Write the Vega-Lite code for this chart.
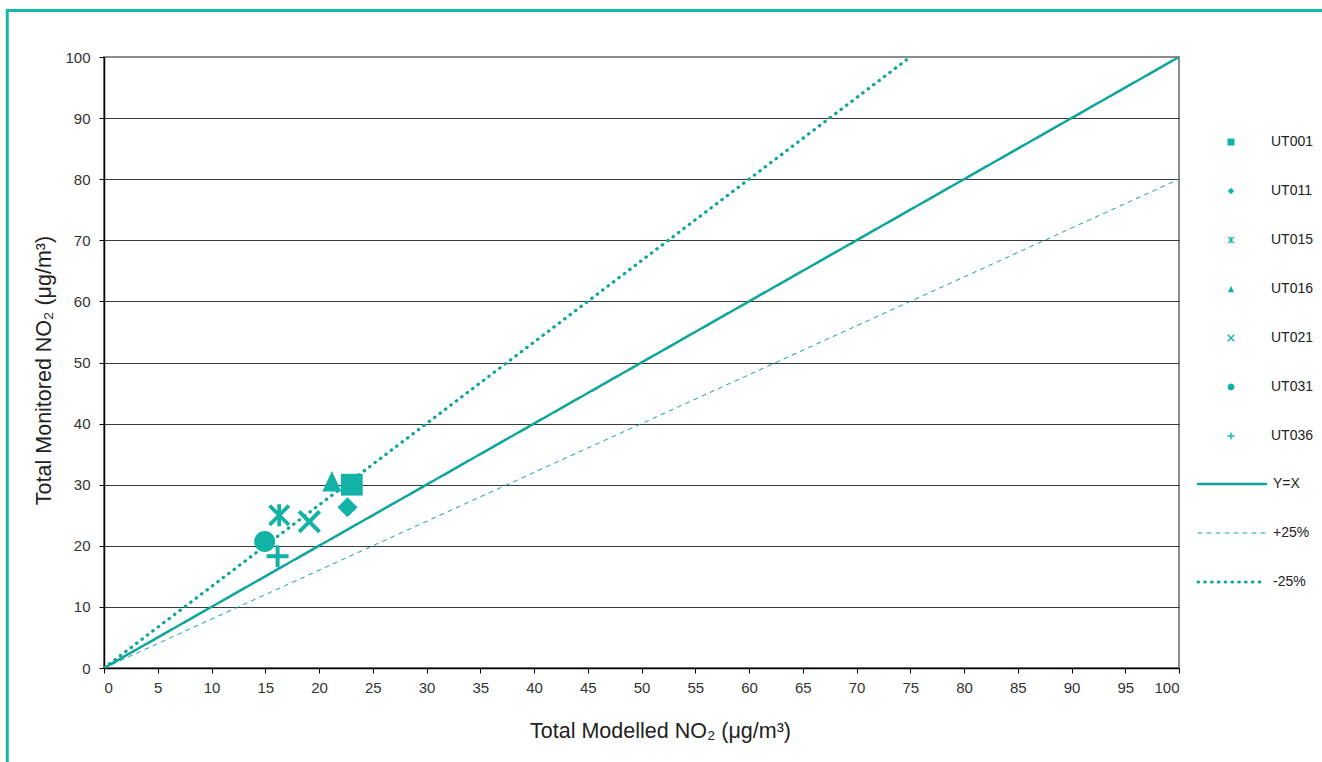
{
  "$schema": "https://vega.github.io/schema/vega-lite/v6.json",
  "width": 1075,
  "height": 611,
  "autosize": {"type": "none"},
  "padding": {"left": 104, "top": 57, "right": 143, "bottom": 94},
  "background": "white",
  "config": {
    "font": "Liberation Sans",
    "view": {"stroke": "#8c8c8c", "strokeWidth": 2},
    "axis": {
      "labelFontSize": 15,
      "labelColor": "#333333",
      "labelFont": "Liberation Sans",
      "tickColor": "#000000",
      "domainColor": "#000000",
      "domainWidth": 1.5,
      "tickSize": 5,
      "titleFont": "Liberation Sans",
      "titleFontSize": 21.5,
      "titleFontWeight": "normal",
      "titleColor": "#222222"
    }
  },
  "datasets": {
    "points": [
      {"station": "UT001", "modelled": 23.05, "monitored": 30.0},
      {"station": "UT011", "modelled": 22.65, "monitored": 26.3},
      {"station": "UT015", "modelled": 16.3, "monitored": 25.0},
      {"station": "UT016", "modelled": 21.2, "monitored": 30.55},
      {"station": "UT021", "modelled": 19.1, "monitored": 23.95},
      {"station": "UT031", "modelled": 14.95, "monitored": 20.7},
      {"station": "UT036", "modelled": 16.15, "monitored": 18.3}
    ],
    "lines": [
      {"series": "Y=X", "modelled": 0, "monitored": 0},
      {"series": "Y=X", "modelled": 100, "monitored": 100},
      {"series": "+25%", "modelled": 0, "monitored": 0},
      {"series": "+25%", "modelled": 100, "monitored": 80},
      {"series": "-25%", "modelled": 0, "monitored": 0},
      {"series": "-25%", "modelled": 75, "monitored": 100}
    ]
  },
  "layer": [
    {
      "data": {"name": "lines"},
      "mark": {"type": "line", "strokeCap": "round", "color": "#0ea59b", "clip": true},
      "encoding": {
        "x": {
          "field": "modelled", "type": "quantitative",
          "scale": {"domain": [0, 100], "nice": false},
          "axis": {
            "values": [0, 5, 10, 15, 20, 25, 30, 35, 40, 45, 50, 55, 60, 65, 70, 75, 80, 85, 90, 95, 100],
            "grid": false,
            "labelPadding": 7,
            "title": "Total Modelled NO₂ (μg/m³)",
            "titlePadding": 25,
            "titleX": 556
          }
        },
        "y": {
          "field": "monitored", "type": "quantitative",
          "scale": {"domain": [0, 100], "nice": false},
          "axis": {
            "values": [0, 10, 20, 30, 40, 50, 60, 70, 80, 90, 100],
            "grid": true,
            "gridColor": {"condition": {"test": "datum.value === 100", "value": "#8c8c8c"}, "value": "#3a3a3a"},
            "gridWidth": 1.2,
            "labelPadding": 9,
            "title": "Total Monitored NO₂ (μg/m³)",
            "titlePadding": 9,
            "titleY": 313
          }
        },
        "strokeDash": {
          "field": "series", "type": "nominal",
          "scale": {"domain": ["Y=X", "+25%", "-25%"], "range": [[1, 0], [4, 5], [0.5, 6.3]]},
          "legend": {
            "orient": "none", "legendX": 1092, "legendY": 420, "title": null,
            "padding": 0, "symbolType": "stroke", "symbolSize": 4624, "clipHeight": 14,
            "symbolStrokeColor": "#0ea59b", "labelFontSize": 14, "labelColor": "#222222",
            "labelOffset": 5, "rowPadding": 35,
            "encode": {"symbols": {"update": {"strokeCap": {"value": "round"}}}}
          }
        },
        "strokeWidth": {
          "field": "series", "type": "nominal",
          "scale": {"type": "ordinal", "domain": ["Y=X", "+25%", "-25%"], "range": [2.5, 1, 3.2]},
          "legend": {
            "orient": "none", "legendX": 1092, "legendY": 420, "title": null,
            "padding": 0, "symbolType": "stroke", "symbolSize": 4624, "clipHeight": 14,
            "symbolStrokeColor": "#0ea59b", "labelFontSize": 14, "labelColor": "#222222",
            "labelOffset": 5, "rowPadding": 35,
            "encode": {"symbols": {"update": {"strokeCap": {"value": "round"}}}}
          }
        }
      }
    },
    {
      "data": {"name": "points"},
      "mark": {"type": "point", "filled": true, "opacity": 1, "color": "#13b2a6", "strokeWidth": 0, "size": 484},
      "encoding": {
        "x": {"field": "modelled", "type": "quantitative", "scale": {"domain": [0, 100], "nice": false}},
        "y": {"field": "monitored", "type": "quantitative", "scale": {"domain": [0, 100], "nice": false}},
        "shape": {
          "field": "station", "type": "nominal",
          "scale": {
            "domain": ["UT001", "UT011", "UT015", "UT016", "UT021", "UT031", "UT036"],
            "range": [
              "M-0.99,-0.99L0.99,-0.99L0.99,0.99L-0.99,0.99Z",
              "M0,-0.91L0.91,0L0,0.91L-0.91,0Z",
              "M-1,-0.76L-0.76,-1L0,-0.24L0.76,-1L1,-0.76L0.24,0L1,0.76L0.76,1L0,0.24L-0.76,1L-1,0.76L-0.24,0ZM-0.17,-1L0.17,-1L0.17,1L-0.17,1Z",
              "M0,-0.95L0.87,0.93L-0.87,0.93Z",
              "M-1.06,-0.8L-0.8,-1.06L0,-0.26L0.8,-1.06L1.06,-0.8L0.26,0L1.06,0.8L0.8,1.06L0,0.26L-0.8,1.06L-1.06,0.8L-0.26,0Z",
              "M-0.955,0A0.955,0.955 0 1,0 0.955,0A0.955,0.955 0 1,0 -0.955,0Z",
              "M-0.18,-1L0.18,-1L0.18,-0.18L1,-0.18L1,0.18L0.18,0.18L0.18,1L-0.18,1L-0.18,0.18L-1,0.18L-1,-0.18L-0.18,-0.18Z"
            ]
          },
          "legend": {
            "orient": "none", "legendX": 1120, "legendY": 78, "title": null,
            "padding": 0, "symbolSize": 50, "clipHeight": 14, "symbolFillColor": "#13b2a6",
            "labelFontSize": 14, "labelColor": "#222222",
            "labelOffset": 33, "rowPadding": 35,
            "encode": {"symbols": {"update": {"stroke": {"value": "#13b2a6"}, "strokeWidth": {"value": 1.8}, "strokeJoin": {"value": "round"}}}}
          }
        }
      }
    },
    {
      "data": {"values": [{"edge": "top"}]},
      "mark": {"type": "rule", "color": "#13b8ac", "strokeWidth": 3, "clip": false},
      "encoding": {
        "x": {"datum": -9.1, "type": "quantitative", "scale": {"domain": [0, 100], "nice": false}},
        "x2": {"datum": 113.6},
        "y": {"datum": 107.6, "type": "quantitative", "scale": {"domain": [0, 100], "nice": false}}
      }
    },
    {
      "data": {"values": [{"edge": "left"}]},
      "mark": {"type": "rule", "color": "#13b8ac", "strokeWidth": 3, "clip": false},
      "encoding": {
        "x": {"datum": -9.0, "type": "quantitative", "scale": {"domain": [0, 100], "nice": false}},
        "y": {"datum": 107.85, "type": "quantitative", "scale": {"domain": [0, 100], "nice": false}},
        "y2": {"datum": -16}
      }
    }
  ]
}
